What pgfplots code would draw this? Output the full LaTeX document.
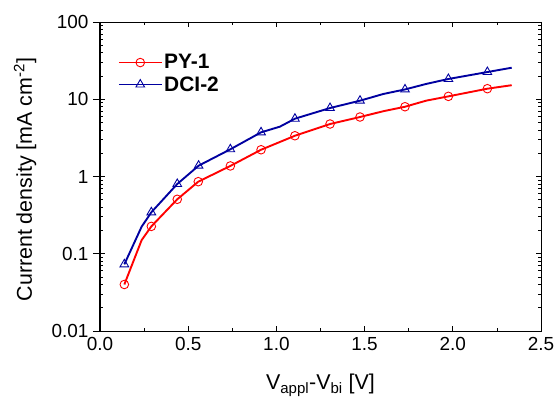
\documentclass[border=0pt]{standalone}
\usepackage{fontspec}
\setmainfont{Liberation Sans}
\usepackage{pgfplots}
\pgfplotsset{compat=1.18}
\definecolor{myred}{RGB}{255,0,0}
\definecolor{myblue}{RGB}{0,0,160}
\begin{document}
\begin{tikzpicture}
\begin{axis}[
  width=441bp, height=309bp, scale only axis,
  xmin=0, xmax=2.5, ymin=0.01, ymax=100, ymode=log,
  xtick={0,0.5,...,2.5}, minor x tick num=1,
  ytick={0.01,0.1,1,10,100}, yticklabels={},
  extra y ticks={0.01,0.1,1,10,100},
  extra y tick labels={0.01,0.1,1,10,100},
  extra tick style={tick align=outside, major tick length=7bp, ytick pos=left},
  /pgf/number format/assume math mode=true,
  tick label style={font=\fontsize{19}{22}\selectfont},
  xticklabel style={/pgf/number format/fixed, /pgf/number format/fixed zerofill, /pgf/number format/precision=1, yshift=-3bp},
  yticklabel style={xshift=-1bp},
  xlabel={V\textsubscript{appl}-V\textsubscript{bi} [V]},
  ylabel={Current density [mA cm\textsuperscript{-2}]},
  every axis x label/.style={at={(axis description cs:0.5,-0.175)}, anchor=center, font=\fontsize{21.5}{24}\selectfont},
  every axis y label/.style={at={(axis description cs:-0.17,0.49)}, anchor=center, rotate=90, font=\fontsize{21.5}{24}\selectfont},
  tick align=inside, major tick length=5bp, minor tick length=3.5bp,
  axis line style={line width=1pt}, tick style={line width=0.8pt, black},
  legend style={draw=none, fill=none, at={(0.04,0.90)}, anchor=north west,
    inner sep=0pt, font=\fontsize{21}{24}\selectfont\bfseries, row sep=3bp,
    nodes={inner sep=1.5bp}},
  /tikz/every even column/.append style={column sep=8bp},
  legend cell align=left,
  legend image code/.code={\draw[#1] (0bp,0bp) -- (43bp,0bp); \draw[#1, only marks] plot coordinates {(21.5bp,0bp)};},
]
\addplot[myred, line width=1.9pt, mark=o, mark size=4.3bp, mark options={fill=white, line width=0.9pt},
  mark indices={1,3,4,5,6,7,9,10,11,13,15,16}] coordinates {
(0.138,0.040) (0.236,0.15) (0.291,0.226) (0.438,0.507) (0.557,0.857) (0.739,1.37)
(0.913,2.22) (1.020,2.80) (1.105,3.37) (1.304,4.78) (1.474,5.89) (1.606,7.0)
(1.729,8.0) (1.850,9.6) (1.975,10.9) (2.196,13.7) (2.334,15.2)};
\addlegendentry{PY-1}
\addplot[myblue, line width=1.9pt, mark=triangle, mark size=5bp, mark options={fill=white, line width=0.9pt},
  mark indices={1,3,4,5,6,7,9,10,11,13,15,16}] coordinates {
(0.138,0.073) (0.236,0.224) (0.291,0.344) (0.438,0.80) (0.559,1.38) (0.739,2.25)
(0.913,3.73) (1.020,4.42) (1.105,5.6) (1.304,7.7) (1.474,9.58) (1.606,11.7)
(1.729,13.4) (1.850,15.8) (1.975,18.3) (2.196,22.5) (2.334,25.6)};
\addlegendentry{DCI-2}
\end{axis}
\draw[line width=1.6pt] (current axis.south west) -- (current axis.north west);
\pgfresetboundingbox
\path ([shift={(-100bp,-70bp)}]current axis.south west) rectangle ([shift={(19bp,22bp)}]current axis.north east);
\end{tikzpicture}
\end{document}
